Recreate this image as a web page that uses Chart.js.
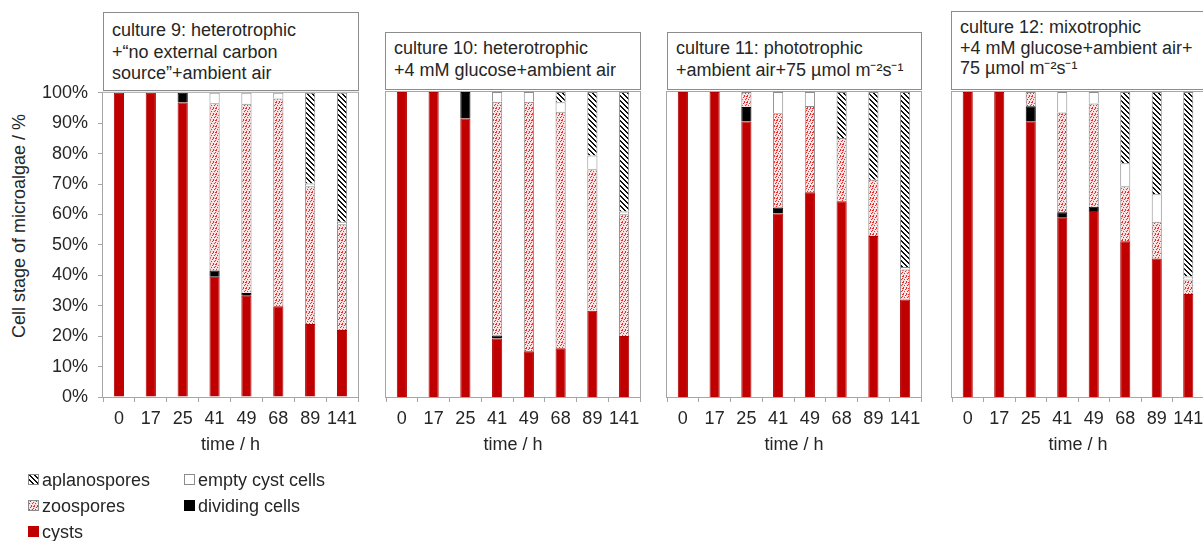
<!DOCTYPE html>
<html>
<head>
<meta charset="utf-8">
<script src="https://cdn.jsdelivr.net/npm/chart.js@4.4.1/dist/chart.umd.min.js"></script>
<style>
  body { margin: 0; width: 1203px; height: 541px; overflow: hidden; background: #fff;
         font-family: 'Liberation Sans', Arial, sans-serif; color: #262626; position: relative; }
  canvas.panel { position: absolute; }
  .tbox { position: absolute; border: 1px solid #8c8c8c; background: #fff; font-size: 18px;
          line-height: 21.5px; padding-left: 8px; box-sizing: border-box; white-space: nowrap; }
  .ytitle { position: absolute; left: 19px; top: 226px; font-size: 18px; white-space: nowrap;
            transform: translate(-50%, -50%) rotate(-90deg); }
  .leg { position: absolute; font-size: 18px; line-height: 22px; white-space: nowrap; }
  .leg canvas { position: absolute; left: -14px; top: 5px; }
</style>
</head>
<body>

<div class="tbox" style="left:103px; top:12px; width:256px; height:79px; padding-top:7px;">culture 9: heterotrophic<br>+“no external carbon<br>source”+ambient air</div>
<div class="tbox" style="left:385px; top:32px; width:256px; height:58px; padding-top:5px;">culture 10: heterotrophic<br>+4 mM glucose+ambient air</div>
<div class="tbox" style="left:667px; top:32px; width:255px; height:58px; padding-top:5px;">culture 11: phototrophic<br>+ambient air+75 µmol m⁻²s⁻¹</div>
<div class="tbox" style="left:951px; top:11px; width:262px; height:79px; padding-top:5px; line-height:20.5px;">culture 12: mixotrophic<br>+4 mM glucose+ambient air+<br>75 µmol m⁻²s⁻¹</div>

<div class="ytitle">Cell stage of microalgae / %</div>

<canvas id="c9" class="panel" width="365" height="398" style="left:0px; top:72px;"></canvas>
<canvas id="c10" class="panel" width="274" height="398" style="left:376px; top:72px;"></canvas>
<canvas id="c11" class="panel" width="274" height="398" style="left:657px; top:72px;"></canvas>
<canvas id="c12" class="panel" width="272" height="398" style="left:942px; top:72px;"></canvas>

<div class="leg" style="left:42px; top:469px;"><canvas id="lg0" width="11" height="11"></canvas>aplanospores</div>
<div class="leg" style="left:198px; top:469px;"><canvas id="lg1" width="11" height="11"></canvas>empty cyst cells</div>
<div class="leg" style="left:42px; top:495px;"><canvas id="lg2" width="11" height="11"></canvas>zoospores</div>
<div class="leg" style="left:198px; top:495px;"><canvas id="lg3" width="11" height="11"></canvas>dividing cells</div>
<div class="leg" style="left:42px; top:521px;"><canvas id="lg4" width="11" height="11"></canvas>cysts</div>

<script>
const hours = ['0', '17', '25', '41', '49', '68', '89', '141'];
const yTicks = [0, 10, 20, 30, 40, 50, 60, 70, 80, 90, 100];

// culture 9
const c9Cysts    = [100, 100, 96.8, 39.5, 33.3, 29.8, 24.0, 22.0];
const c9Dividing = [0, 0, 3.2, 2.1, 0.9, 0, 0, 0];
const c9Zoo      = [0, 0, 0, 55.0, 62.2, 68.3, 45.3, 34.8];
const c9Empty    = [0, 0, 0, 3.4, 3.6, 1.9, 0.9, 0.8];
const c9Aplano   = [0, 0, 0, 0, 0, 0, 29.8, 42.4];

// culture 10
const c10Cysts    = [100, 100, 91.3, 19.2, 15.0, 16.0, 28.3, 20.0];
const c10Dividing = [0, 0, 8.7, 1.0, 0, 0, 0, 0];
const c10Zoo      = [0, 0, 0, 76.6, 81.8, 77.5, 46.4, 39.9];
const c10Empty    = [0, 0, 0, 3.2, 3.2, 3.1, 4.5, 0.9];
const c10Aplano   = [0, 0, 0, 0, 0, 3.4, 20.8, 39.2];

// culture 11
const c11Cysts    = [100, 100, 90.3, 60.2, 67.1, 64.2, 52.8, 32.0];
const c11Dividing = [0, 0, 4.8, 1.9, 0, 0, 0, 0];
const c11Zoo      = [0, 0, 4.9, 30.9, 28.3, 20.7, 18.4, 9.8];
const c11Empty    = [0, 0, 0, 7.0, 4.6, 0, 0, 0.8];
const c11Aplano   = [0, 0, 0, 0, 0, 15.1, 28.8, 57.4];

// culture 12
const c12Cysts    = [100, 100, 90.4, 58.8, 61.0, 51.1, 45.4, 33.8];
const c12Dividing = [0, 0, 4.9, 1.8, 1.4, 0, 0, 0];
const c12Zoo      = [0, 0, 4.7, 32.7, 33.8, 18.0, 12.1, 4.7];
const c12Empty    = [0, 0, 0, 6.7, 3.8, 7.5, 9.0, 1.0];
const c12Aplano   = [0, 0, 0, 0, 0, 23.4, 33.5, 60.5];

const FONT = "'Liberation Sans', Arial, sans-serif";
const TXT = '#262626';
const GRID = '#a6a6a6';
const RED = '#c00000';

// pattern tiles: speckled pink for zoospores, "\" hatching for aplanospores
const dotTile = document.createElement('canvas');
dotTile.width = 6; dotTile.height = 6;
(function () {
  const g = dotTile.getContext('2d');
  g.fillStyle = '#fbd9d9'; g.fillRect(0, 0, 6, 6);
  g.fillStyle = '#ffffff';
  [[1, 0], [4, 1], [0, 3], [3, 4], [5, 5], [2, 2]].forEach(p => g.fillRect(p[0], p[1], 1, 1));
  g.fillStyle = '#ec2c2c';
  [[0, 0], [3, 0], [2, 1], [5, 2], [1, 3], [4, 3], [0, 5], [3, 5], [5, 0]].forEach(p => g.fillRect(p[0], p[1], 1, 1));
})();

const stripeTile = document.createElement('canvas');
stripeTile.width = 5; stripeTile.height = 5;
(function () {
  const g = stripeTile.getContext('2d');
  g.fillStyle = '#fff'; g.fillRect(0, 0, 5, 5);
  g.fillStyle = '#111';
  for (let i = 0; i < 5; i++) {
    g.fillRect(i, i, 1, 1);
    g.fillRect((i + 1) % 5, i, 1, 1);
  }
})();

const frame = {
  id: 'frame',
  afterDatasetsDraw(chart) {
    const a = chart.chartArea, ctx = chart.ctx;
    ctx.save();
    ctx.strokeStyle = GRID;
    ctx.lineWidth = 1;
    ctx.strokeRect(a.left - 0.5, a.top - 0.5, a.right - a.left + 1, a.bottom - a.top + 1);
    ctx.restore();
  }
};

function makePanel(id, cysts, dividing, zoo, empty, aplano, first, pad) {
  const canvas = document.getElementById(id);
  const ctx = canvas.getContext('2d');
  const dots = ctx.createPattern(dotTile, 'repeat');
  const stripes = ctx.createPattern(stripeTile, 'repeat');
  const common = { barPercentage: 0.32, categoryPercentage: 1, borderWidth: 1 };

  new Chart(canvas, {
    type: 'bar',
    data: {
      labels: hours,
      datasets: [
        Object.assign({ label: 'cysts', data: cysts, backgroundColor: RED, borderColor: '#b00000' }, common),
        Object.assign({ label: 'dividing cells', data: dividing, backgroundColor: '#000', borderColor: '#000' }, common),
        Object.assign({ label: 'zoospores', data: zoo, backgroundColor: dots, borderColor: '#8c8c8c' }, common),
        Object.assign({ label: 'empty cyst cells', data: empty, backgroundColor: '#fff', borderColor: '#8c8c8c' }, common),
        Object.assign({ label: 'aplanospores', data: aplano, backgroundColor: stripes, borderColor: '#8c8c8c' }, common)
      ]
    },
    options: {
      responsive: false,
      animation: false,
      layout: { padding: pad },
      plugins: { legend: { display: false }, tooltip: { enabled: false } },
      scales: {
        x: {
          stacked: true,
          border: { display: false },
          grid: { display: true, drawOnChartArea: false, drawTicks: true, tickLength: 5, offset: true, color: GRID },
          ticks: { color: TXT, font: { family: FONT, size: 18 }, padding: 6, maxRotation: 0, autoSkip: false },
          title: { display: true, text: 'time / h', color: TXT, font: { family: FONT, size: 18 }, padding: { top: 0, bottom: 14 } },
          afterFit: s => { s.height = 73; }
        },
        y: {
          stacked: true,
          display: first,
          min: 0,
          max: 100,
          border: { display: false },
          grid: { drawOnChartArea: false, drawTicks: true, tickLength: 5, color: GRID },
          afterBuildTicks: s => { s.ticks = yTicks.map(v => ({ value: v })); },
          ticks: { color: TXT, font: { family: FONT, size: 18 }, padding: 10, callback: v => v + '%' },
          afterFit: s => { s.width = first ? 103 : 0; }
        }
      }
    },
    plugins: [frame]
  });
}

makePanel('c9', c9Cysts, c9Dividing, c9Zoo, c9Empty, c9Aplano, true, { top: 20, left: 0, right: 7, bottom: 0 });
makePanel('c10', c10Cysts, c10Dividing, c10Zoo, c10Empty, c10Aplano, false, { top: 20, left: 10, right: 10, bottom: 0 });
makePanel('c11', c11Cysts, c11Dividing, c11Zoo, c11Empty, c11Aplano, false, { top: 20, left: 10, right: 10, bottom: 0 });
makePanel('c12', c12Cysts, c12Dividing, c12Zoo, c12Empty, c12Aplano, false, { top: 20, left: 10, right: 10, bottom: 0 });

// legend swatches
function swatch(id, fill, edge) {
  const c = document.getElementById(id);
  const g = c.getContext('2d');
  g.fillStyle = fill === 'dots' ? g.createPattern(dotTile, 'repeat') : fill === 'stripes' ? g.createPattern(stripeTile, 'repeat') : fill;
  g.fillRect(0, 0, 11, 11);
  g.strokeStyle = edge;
  g.strokeRect(0.5, 0.5, 10, 10);
}
swatch('lg0', 'stripes', '#8c8c8c');
swatch('lg1', '#fff', '#8c8c8c');
swatch('lg2', 'dots', '#8c8c8c');
swatch('lg3', '#000', '#000');
swatch('lg4', RED, RED);
</script>
</body>
</html>
